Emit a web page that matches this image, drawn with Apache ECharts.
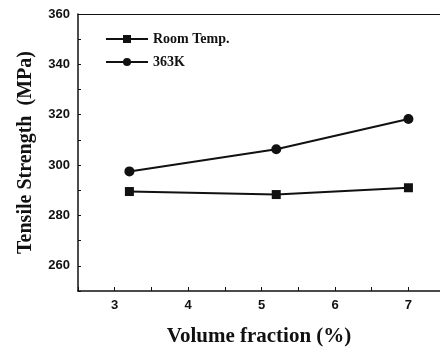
<!DOCTYPE html>
<html>
<head>
<meta charset="utf-8">
<script src="https://cdn.jsdelivr.net/npm/echarts@6/dist/echarts.min.js"></script>
<style>
  html, body { margin: 0; padding: 0; background: #fff; }
  #chart { width: 440px; height: 352px; }
</style>
</head>
<body>
<div id="chart"></div>
<script>
const volumeFraction = [3.2, 5.2, 7.0]
const roomTemp = [289.5, 288.3, 291.0]
const k363 = [297.5, 306.3, 318.3]
const seriesNames = ['Room Temp.', '363K']

const serif = 'Liberation Serif'
const sans = 'Liberation Sans'

const myChart = echarts.init(document.getElementById('chart'))

const option = {
  animation: false,
  backgroundColor: '#fff',
  grid: {
    left: 78,
    top: 14,
    right: 0,
    bottom: 61,
    outerBoundsMode: 'none'
  },
  legend: {
    orient: 'vertical',
    left: 100,
    top: 27,
    itemWidth: 42,
    itemHeight: 10,
    itemGap: 9,
    textStyle: {
      color: '#111',
      fontFamily: serif,
      fontWeight: 'bold',
      fontSize: 14
    },
    data: seriesNames
  },
  xAxis: [
    {
      type: 'value',
      min: 2.5,
      max: 7.43,
      interval: 0.5,
      name: 'Volume fraction (%)',
      nameLocation: 'middle',
      nameGap: 35,
      nameTextStyle: {
        color: '#111',
        fontFamily: serif,
        fontWeight: 'bold',
        fontSize: 21
      },
      axisLine: { show: true, lineStyle: { color: '#111', width: 1.5 } },
      axisTick: { show: true, inside: true, length: 4, lineStyle: { color: '#111' } },
      axisLabel: {
        color: '#111',
        fontFamily: sans,
        fontWeight: 'bold',
        fontSize: 13,
        margin: 8,
        showMaxLabel: false,
        formatter: (v) => (Number.isInteger(v) ? String(v) : '')
      },
      splitLine: { show: false }
    },
    {
      // top frame line only
      type: 'value',
      position: 'top',
      min: 2.5,
      max: 7.43,
      axisLine: { show: true, lineStyle: { color: '#111', width: 1.2 } },
      axisTick: { show: false },
      axisLabel: { show: false },
      splitLine: { show: false }
    }
  ],
  yAxis: {
    type: 'value',
    min: 250,
    max: 360,
    interval: 10,
    name: 'Tensile Strength  (MPa)',
    nameLocation: 'middle',
    nameGap: 42,
    nameTextStyle: {
      color: '#111',
      fontFamily: serif,
      fontWeight: 'bold',
      fontSize: 20
    },
    axisLine: { show: true, lineStyle: { color: '#111', width: 1.5 } },
    axisTick: { show: true, inside: true, length: 3, lineStyle: { color: '#111' } },
    axisLabel: {
      color: '#111',
      fontFamily: sans,
      fontWeight: 'bold',
      fontSize: 13,
      margin: 8,
      formatter: (v) => (v % 20 === 0 ? String(v) : '')
    },
    splitLine: { show: false }
  },
  series: [
    {
      name: seriesNames[0],
      type: 'line',
      data: volumeFraction.map((x, i) => [x, roomTemp[i]]),
      symbol: 'rect',
      symbolSize: 9,
      itemStyle: { color: '#111' },
      lineStyle: { color: '#111', width: 2 }
    },
    {
      name: seriesNames[1],
      type: 'line',
      data: volumeFraction.map((x, i) => [x, k363[i]]),
      symbol: 'circle',
      symbolSize: 10,
      itemStyle: { color: '#111' },
      lineStyle: { color: '#111', width: 2 }
    }
  ]
}

myChart.setOption(option)
</script>
</body>
</html>
